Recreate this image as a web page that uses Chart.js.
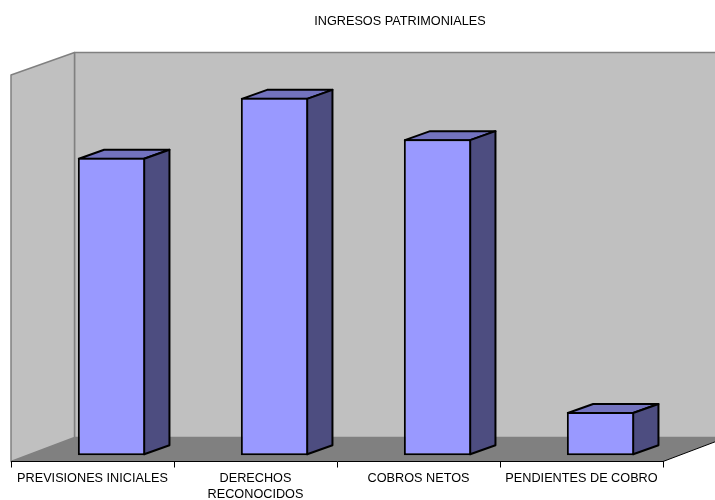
<!DOCTYPE html>
<html>
<head>
<meta charset="utf-8">
<title>Ingresos patrimoniales</title>
<script src="https://cdn.jsdelivr.net/npm/chart.js@4"></script>
<style>
  html, body { margin: 0; padding: 0; background: #fff; }
  canvas { display: block; }
</style>
</head>
<body>
<canvas id="chart" width="715" height="500"></canvas>
<script>
const chartTitle = 'INGRESOS PATRIMONIALES';
const categories = ['PREVISIONES INICIALES', ['DERECHOS', 'RECONOCIDOS'], 'COBROS NETOS', 'PENDIENTES DE COBRO'];
const values = [77.0, 92.5, 81.8, 11.2];

// fake 3D: how far the back wall and the bars sit from the front plane
const wallDepth = { x: 63.5, top: -22.5, bottom: -24 };
const barShift = { x: 19, y: -6.2 };
const barDepth = { x: 25.3, y: -9 };

function poly(ctx, pts, fill, stroke, lineWidth) {
  ctx.beginPath();
  pts.forEach((p, i) => i ? ctx.lineTo(p[0], p[1]) : ctx.moveTo(p[0], p[1]));
  ctx.closePath();
  if (fill) { ctx.fillStyle = fill; ctx.fill(); }
  if (stroke) { ctx.strokeStyle = stroke; ctx.lineWidth = lineWidth; ctx.lineJoin = 'round'; ctx.stroke(); }
}

const box3d = {
  id: 'box3d',
  afterLayout(chart) {
    // the title is centred over the plot walls, not over the canvas
    chart.titleBlock.left = 137;
  },
  beforeDraw(chart) {
    const { ctx, chartArea: a } = chart;
    const dx = wallDepth.x, top = a.top + wallDepth.top, bottom = a.bottom + wallDepth.bottom;
    ctx.save();
    // back wall
    poly(ctx, [[a.left + dx, top], [a.right + dx, top], [a.right + dx, bottom], [a.left + dx, bottom]], '#c0c0c0', '#808080', 1.5);
    // left wall
    poly(ctx, [[a.left, a.top], [a.left + dx, top], [a.left + dx, bottom], [a.left, a.bottom]], '#c0c0c0', '#808080', 1.5);
    // floor
    poly(ctx, [[a.left, a.bottom], [a.left + dx, bottom], [a.right + dx, bottom], [a.right, a.bottom]], '#808080');
    ctx.beginPath();
    ctx.moveTo(a.right, a.bottom);
    ctx.lineTo(a.right + dx, bottom);
    ctx.strokeStyle = '#000';
    ctx.lineWidth = 1;
    ctx.stroke();
    ctx.restore();
  },
  beforeDatasetsDraw(chart) {
    const { ctx } = chart;
    ctx.save();
    ctx.translate(barShift.x, barShift.y);
    chart.getDatasetMeta(0).data.forEach(bar => {
      const l = bar.x - bar.width / 2 + 1, r = bar.x + bar.width / 2 - 1;
      const t = bar.y + 1, b = bar.base - 1;
      const dx = barDepth.x, dy = barDepth.y;
      poly(ctx, [[l, t], [l + dx, t + dy], [r + dx, t + dy], [r, t]], '#7373bf', '#000', 2);
      poly(ctx, [[r, t], [r + dx, t + dy], [r + dx, b + dy], [r, b]], '#4d4d80', '#000', 2);
    });
  },
  afterDatasetsDraw(chart) {
    chart.ctx.restore();
  }
};

new Chart(document.getElementById('chart').getContext('2d'), {
  type: 'bar',
  data: {
    labels: categories,
    datasets: [{
      data: values,
      backgroundColor: '#9999ff',
      borderColor: '#000',
      borderWidth: 2,
      borderSkipped: false,
      categoryPercentage: 1,
      barPercentage: 0.413,
      clip: false
    }]
  },
  options: {
    responsive: false,
    animation: false,
    layout: { padding: { left: 11, right: 52, top: 0, bottom: 0 } },
    plugins: {
      legend: { display: false },
      tooltip: { enabled: false },
      title: {
        display: true,
        text: chartTitle,
        color: '#000',
        font: { family: '"Liberation Sans"', size: 12.7, weight: 'normal', lineHeight: 1.2 },
        padding: { top: 14, bottom: 45.8 }
      }
    },
    scales: {
      x: {
        grid: { drawOnChartArea: false, tickLength: 6, tickColor: '#000', tickWidth: 1 },
        border: { color: '#000', width: 1 },
        ticks: {
          color: '#000',
          font: { family: '"Liberation Sans"', size: 12.7, lineHeight: 1.25 },
          autoSkip: false,
          maxRotation: 0,
          padding: 3
        },
        afterFit(scale) { scale.height = 38.5; }
      },
      y: { display: false, min: 0, max: 100 }
    }
  },
  plugins: [box3d]
});
</script>
</body>
</html>
